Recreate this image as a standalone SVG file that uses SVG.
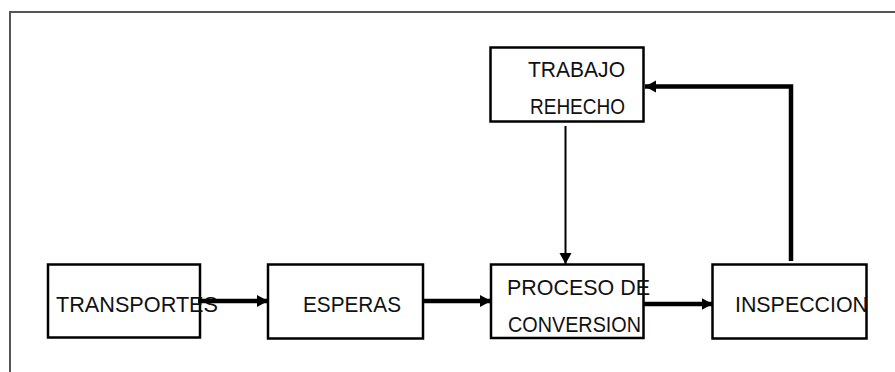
<svg xmlns="http://www.w3.org/2000/svg" width="895" height="372" viewBox="0 0 895 372">
<style>
.box{fill:#fff;stroke:#000;stroke-width:2.5}
.t{font-family:"Liberation Sans",Arial,sans-serif;font-size:22px;fill:#111}
.c{fill:none;stroke:#000}
</style>
<defs>
<marker id="ah" markerUnits="userSpaceOnUse" markerWidth="12" markerHeight="14" refX="11" refY="7" orient="auto">
<path d="M0,1 L11,7 L0,13 Z" fill="#000"/>
</marker>
</defs>
<rect width="895" height="372" fill="#fff"/>
<path d="M10,372 V12 H895" fill="none" stroke="#555" stroke-width="2"/>
<g id="transportes">
<rect class="box" x="48" y="264.5" width="152" height="73"/>
<text class="t" x="56" y="311.5" textLength="162" lengthAdjust="spacingAndGlyphs">TRANSPORTES</text>
</g>
<g id="esperas">
<rect class="box" x="268" y="264.5" width="155" height="74"/>
<text class="t" x="303" y="311.5" textLength="98" lengthAdjust="spacingAndGlyphs">ESPERAS</text>
</g>
<g id="proceso">
<rect class="box" x="491" y="264.5" width="152.5" height="73.5"/>
<text class="t" x="507" y="295" textLength="143" lengthAdjust="spacingAndGlyphs">PROCESO DE</text>
<text class="t" x="508" y="331.5" textLength="133" lengthAdjust="spacingAndGlyphs">CONVERSION</text>
</g>
<g id="inspeccion">
<rect class="box" x="712.5" y="264.5" width="154" height="74"/>
<text class="t" x="735" y="312" textLength="133" lengthAdjust="spacingAndGlyphs">INSPECCION</text>
</g>
<g id="trabajo">
<rect class="box" x="490.5" y="47.5" width="153" height="74"/>
<text class="t" x="528" y="77" textLength="97" lengthAdjust="spacingAndGlyphs">TRABAJO</text>
<text class="t" x="530" y="114" textLength="95" lengthAdjust="spacingAndGlyphs">REHECHO</text>
</g>
<g id="connectors">
<path class="c" d="M198,301 H268" stroke-width="4.5" marker-end="url(#ah)"/>
<path class="c" d="M423,301 H491" stroke-width="4.5" marker-end="url(#ah)"/>
<path class="c" d="M643.5,304 H712.5" stroke-width="4.5" marker-end="url(#ah)"/>
<path class="c" d="M565.5,126 V264" stroke-width="2" marker-end="url(#ah)"/>
<path class="c" d="M791,261 V86.5 H645" stroke-width="4.5" marker-end="url(#ah)"/>
</g>
</svg>
